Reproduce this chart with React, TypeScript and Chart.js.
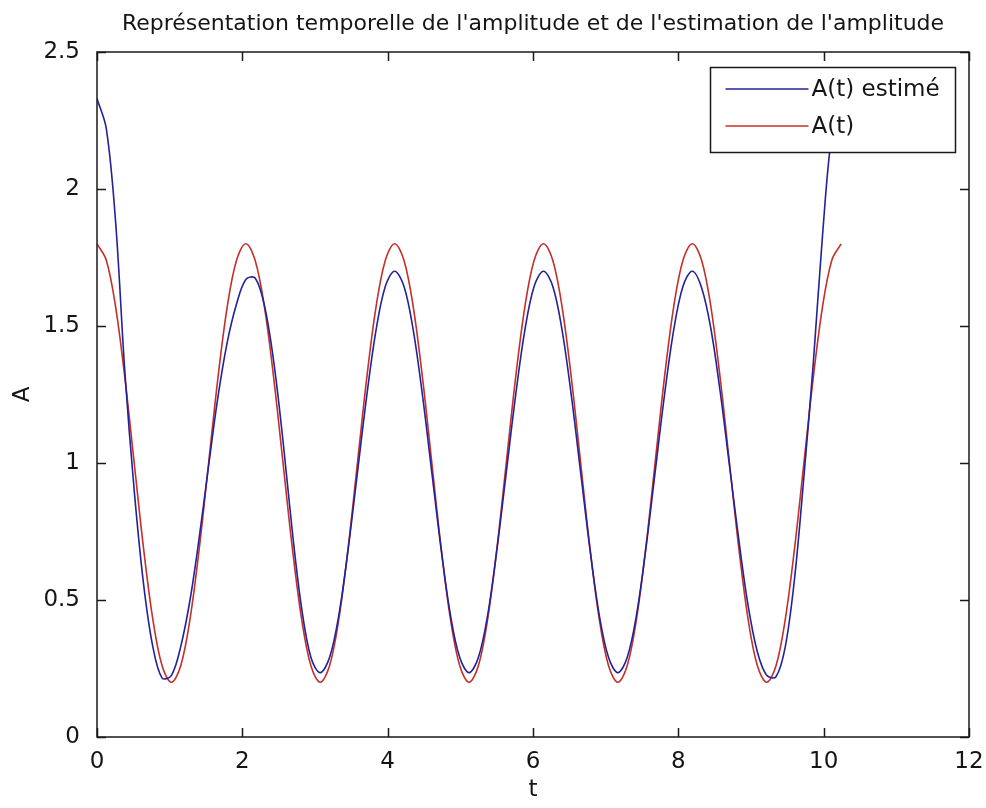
import { useEffect, useRef } from "react";
import { Chart, registerables } from "chart.js";

Chart.register(...registerables);

const TITLE = "Représentation temporelle de l'amplitude et de l'estimation de l'amplitude";
const X_LABEL = "t";
const Y_LABEL = "A";
const SERIES_NAMES = ["A(t) estimé", "A(t)"];
const X_TICKS = [0, 2, 4, 6, 8, 10, 12];
const Y_TICKS = [0, 0.5, 1, 1.5, 2, 2.5];

const T = [
  0, 0.128, 0.256, 0.384, 0.512, 0.64, 0.768, 0.896, 1.024, 1.152, 1.28, 1.408, 1.536, 1.664, 1.792, 1.92,
  2.048, 2.176, 2.304, 2.432, 2.56, 2.688, 2.816, 2.944, 3.072, 3.2, 3.328, 3.456, 3.584, 3.712, 3.84, 3.968,
  4.096, 4.224, 4.352, 4.48, 4.608, 4.736, 4.864, 4.992, 5.12, 5.248, 5.376, 5.504, 5.632, 5.76, 5.888, 6.016,
  6.144, 6.272, 6.4, 6.528, 6.656, 6.784, 6.912, 7.04, 7.168, 7.296, 7.424, 7.552, 7.68, 7.808, 7.936, 8.064,
  8.192, 8.32, 8.448, 8.576, 8.704, 8.832, 8.96, 9.088, 9.216, 9.344, 9.472, 9.6, 9.728, 9.856, 9.984, 10.112,
  10.24,
];

const A_EST = [
  2.33, 2.22, 1.88, 1.33, 0.9, 0.56, 0.33, 0.215, 0.225, 0.33, 0.5, 0.73, 0.99, 1.24, 1.44, 1.58,
  1.67, 1.675, 1.575, 1.37, 1.08, 0.75, 0.47, 0.29, 0.235, 0.29, 0.445, 0.685, 0.965, 1.245, 1.485, 1.645,
  1.7, 1.645, 1.485, 1.245, 0.965, 0.685, 0.445, 0.29, 0.235, 0.29, 0.445, 0.685, 0.965, 1.245, 1.485, 1.645,
  1.7, 1.645, 1.485, 1.245, 0.965, 0.685, 0.445, 0.29, 0.235, 0.29, 0.445, 0.685, 0.965, 1.245, 1.485, 1.645,
  1.7, 1.64, 1.49, 1.26, 0.99, 0.72, 0.48, 0.31, 0.225, 0.22, 0.33, 0.58, 0.95, 1.36, 1.83, 2.2,
  2.33,
];

const A_TRUE = [
  1.8, 1.74, 1.57, 1.31, 1.0, 0.69, 0.43, 0.26, 0.2, 0.26, 0.43, 0.69, 1.0, 1.31, 1.57, 1.74,
  1.8, 1.74, 1.57, 1.31, 1.0, 0.69, 0.43, 0.26, 0.2, 0.26, 0.43, 0.69, 1.0, 1.31, 1.57, 1.74,
  1.8, 1.74, 1.57, 1.31, 1.0, 0.69, 0.43, 0.26, 0.2, 0.26, 0.43, 0.69, 1.0, 1.31, 1.57, 1.74,
  1.8, 1.74, 1.57, 1.31, 1.0, 0.69, 0.43, 0.26, 0.2, 0.26, 0.43, 0.69, 1.0, 1.31, 1.57, 1.74,
  1.8, 1.74, 1.57, 1.31, 1.0, 0.69, 0.43, 0.26, 0.2, 0.26, 0.43, 0.69, 1.0, 1.31, 1.57, 1.74,
  1.8,
];

const FONT = "'DejaVu Sans', sans-serif";
const TEXT_COLOR = "#151515";
const COLORS = ["#22229a", "#c4302c"];

const framePlugin = {
  id: "matlabFrame",
  afterDatasetsDraw(chart: any) {
    const { ctx, chartArea: a, scales } = chart;
    ctx.save();
    ctx.strokeStyle = "#1a1a1a";
    ctx.lineWidth = 1.5;
    ctx.strokeRect(a.left, a.top, a.right - a.left, a.bottom - a.top);
    ctx.beginPath();
    const tl = 9;
    for (const t of scales.x.ticks) {
      const p = Math.round(scales.x.getPixelForValue(t.value)) + 0.5;
      ctx.moveTo(p, a.bottom);
      ctx.lineTo(p, a.bottom - tl);
      ctx.moveTo(p, a.top);
      ctx.lineTo(p, a.top + tl);
    }
    for (const t of scales.y.ticks) {
      const p = Math.round(scales.y.getPixelForValue(t.value)) + 0.5;
      ctx.moveTo(a.left, p);
      ctx.lineTo(a.left + tl, p);
      ctx.moveTo(a.right, p);
      ctx.lineTo(a.right - tl, p);
    }
    ctx.stroke();

    // legend box inside the axes (north-east)
    const bx = 710.5, by = 67.5, bw = 245, bh = 85;
    ctx.fillStyle = "#ffffff";
    ctx.fillRect(bx, by, bw, bh);
    ctx.lineWidth = 1.5;
    ctx.strokeStyle = "#1a1a1a";
    ctx.strokeRect(bx, by, bw, bh);
    ctx.font = `23px ${FONT}`;
    ctx.textBaseline = "middle";
    ctx.textAlign = "left";
    chart.data.datasets.forEach((ds: any, i: number) => {
      const y = by + 21.5 + i * 37;
      ctx.strokeStyle = ds.borderColor;
      ctx.lineWidth = 1.5;
      ctx.beginPath();
      ctx.moveTo(bx + 15, y);
      ctx.lineTo(bx + 98, y);
      ctx.stroke();
      ctx.fillStyle = TEXT_COLOR;
      ctx.fillText(ds.label, bx + 101, y + 1);
    });
    ctx.restore();
  },
};

export default function App() {
  const ref = useRef<HTMLCanvasElement>(null);

  useEffect(() => {
    if (!ref.current) return;
    const chart = new Chart(ref.current, {
      type: "line",
      data: {
        datasets: [
          {
            label: SERIES_NAMES[0],
            data: T.map((t, i) => ({ x: t, y: A_EST[i] })),
            borderColor: COLORS[0],
            borderWidth: 1.6,
            pointRadius: 0,
            tension: 0.35,
            fill: false,
          },
          {
            label: SERIES_NAMES[1],
            data: T.map((t, i) => ({ x: t, y: A_TRUE[i] })),
            borderColor: COLORS[1],
            borderWidth: 1.6,
            pointRadius: 0,
            tension: 0.35,
            fill: false,
          },
        ],
      },
      options: {
        animation: false,
        responsive: false,
        layout: { padding: { left: 0, right: 17, top: 0, bottom: 0 } },
        plugins: {
          legend: { display: false },
          tooltip: { enabled: false },
          title: {
            display: true,
            text: TITLE,
            fullSize: false,
            color: TEXT_COLOR,
            font: { family: FONT, size: 22, weight: "normal" },
            padding: { top: 11, bottom: 14.6 },
          },
        },
        scales: {
          x: {
            type: "linear",
            min: 0,
            max: 12,
            afterBuildTicks: (s: any) => {
              s.ticks = X_TICKS.map((v) => ({ value: v }));
            },
            afterFit: (s: any) => {
              s.height = 71;
              s.paddingLeft = 0;
              s.paddingRight = 0;
            },
            grid: { display: false },
            border: { display: false },
            ticks: {
              color: TEXT_COLOR,
              padding: 3,
              maxRotation: 0,
              font: { family: FONT, size: 23 },
              callback: (v: any) => String(v),
            },
            title: {
              display: true,
              text: X_LABEL,
              color: TEXT_COLOR,
              font: { family: FONT, size: 23 },
              padding: { top: 0, bottom: 4 },
            },
          },
          y: {
            type: "linear",
            min: 0,
            max: 2.5,
            afterBuildTicks: (s: any) => {
              s.ticks = Y_TICKS.map((v) => ({ value: v }));
            },
            afterFit: (s: any) => {
              s.width = 97;
              s.paddingTop = 0;
              s.paddingBottom = 0;
            },
            grid: { display: false },
            border: { display: false },
            ticks: {
              color: TEXT_COLOR,
              padding: 9,
              font: { family: FONT, size: 23 },
              callback: (v: any) => String(v),
            },
            title: {
              display: true,
              text: Y_LABEL,
              color: TEXT_COLOR,
              font: { family: FONT, size: 23 },
              padding: { top: 9, bottom: 0 },
            },
          },
        },
      },
      plugins: [framePlugin],
    });
    return () => chart.destroy();
  }, []);

  return (
    <div style={{ position: "absolute", left: 0, top: 0, width: 986, height: 808, background: "#fff" }}>
      <canvas ref={ref} width={986} height={808} style={{ display: "block", width: 986, height: 808 }} />
    </div>
  );
}
